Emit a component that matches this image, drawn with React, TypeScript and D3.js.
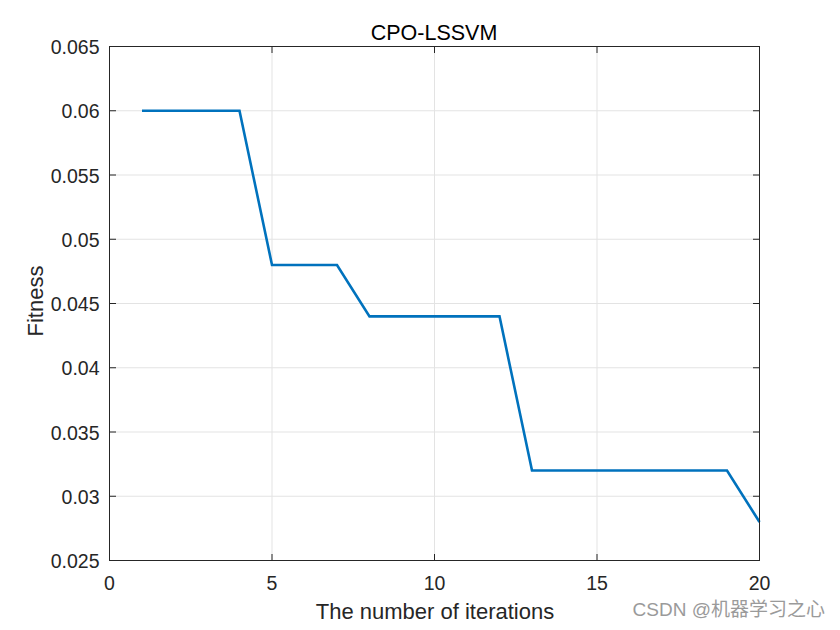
import React from "react";
import * as d3 from "d3";

const iterations = [1,2,3,4,5,6,7,8,9,10,11,12,13,14,15,16,17,18,19,20];
const fitness = [0.06,0.06,0.06,0.06,0.048,0.048,0.048,0.044,0.044,0.044,0.044,0.044,0.032,0.032,0.032,0.032,0.032,0.032,0.032,0.028];
const xTicks = [0,5,10,15,20];
const yTicks = [0.025,0.03,0.035,0.04,0.045,0.05,0.055,0.06,0.065];
const title = "CPO-LSSVM";
const xLabel = "The number of iterations";
const yLabel = "Fitness";
const watermark = "CSDN @机器学习之心";

export default function App() {
  const W = 840, H = 630;
  const L = 109.5, R = 759.5, T = 46.5, B = 560.5;
  const x = d3.scaleLinear().domain([0, 20]).range([L, R]);
  const y = d3.scaleLinear().domain([0.025, 0.065]).range([B, T]);
  const line = d3.line<number>().x((_, i) => x(iterations[i])).y((d) => y(d));
  const font = "Arial, 'Liberation Sans', sans-serif";
  const tk = 6.5;
  return (
    <svg width={W} height={H} style={{ position: "absolute", left: 0, top: 0 }}>
      <rect x={0} y={0} width={W} height={H} fill="#fff" />
      {xTicks.map((t) => (
        <line key={"gx" + t} x1={x(t)} x2={x(t)} y1={T} y2={B} stroke="#e3e3e3" strokeWidth={1} />
      ))}
      {yTicks.map((t) => (
        <line key={"gy" + t} x1={L} x2={R} y1={y(t)} y2={y(t)} stroke="#e3e3e3" strokeWidth={1} />
      ))}
      <path d={line(fitness) || ""} fill="none" stroke="#0072BD" strokeWidth={2.6} strokeLinejoin="miter" />
      <rect x={L} y={T} width={R - L} height={B - T} fill="none" stroke="#262626" strokeWidth={1} />
      {xTicks.map((t) => (
        <g key={"tx" + t}>
          <line x1={x(t)} x2={x(t)} y1={B} y2={B - tk} stroke="#262626" />
          <line x1={x(t)} x2={x(t)} y1={T} y2={T + tk} stroke="#262626" />
          <text x={x(t)} y={590} textAnchor="middle" fontFamily={font} fontSize={19.5} fill="#262626">{t}</text>
        </g>
      ))}
      {yTicks.map((t) => (
        <g key={"ty" + t}>
          <line x1={L} x2={L + tk} y1={y(t)} y2={y(t)} stroke="#262626" />
          <line x1={R} x2={R - tk} y1={y(t)} y2={y(t)} stroke="#262626" />
          <text x={L - 10} y={y(t) + 7.5} textAnchor="end" fontFamily={font} fontSize={19.5} fill="#262626">{String(t)}</text>
        </g>
      ))}
      <text x={434} y={40} textAnchor="middle" fontFamily={font} fontSize={21.5} fill="#000">{title}</text>
      <text x={435} y={619} textAnchor="middle" fontFamily={font} fontSize={22} fill="#262626">{xLabel}</text>
      <text transform={`translate(43,301) rotate(-90)`} textAnchor="middle" fontFamily={font} fontSize={22} fill="#262626">{yLabel}</text>
      <text x={825} y={616} textAnchor="end" fontFamily="Arial, 'Liberation Sans', 'Noto Sans CJK SC', sans-serif" fontSize={19} fill="#9a9a9a">{watermark}</text>
    </svg>
  );
}
